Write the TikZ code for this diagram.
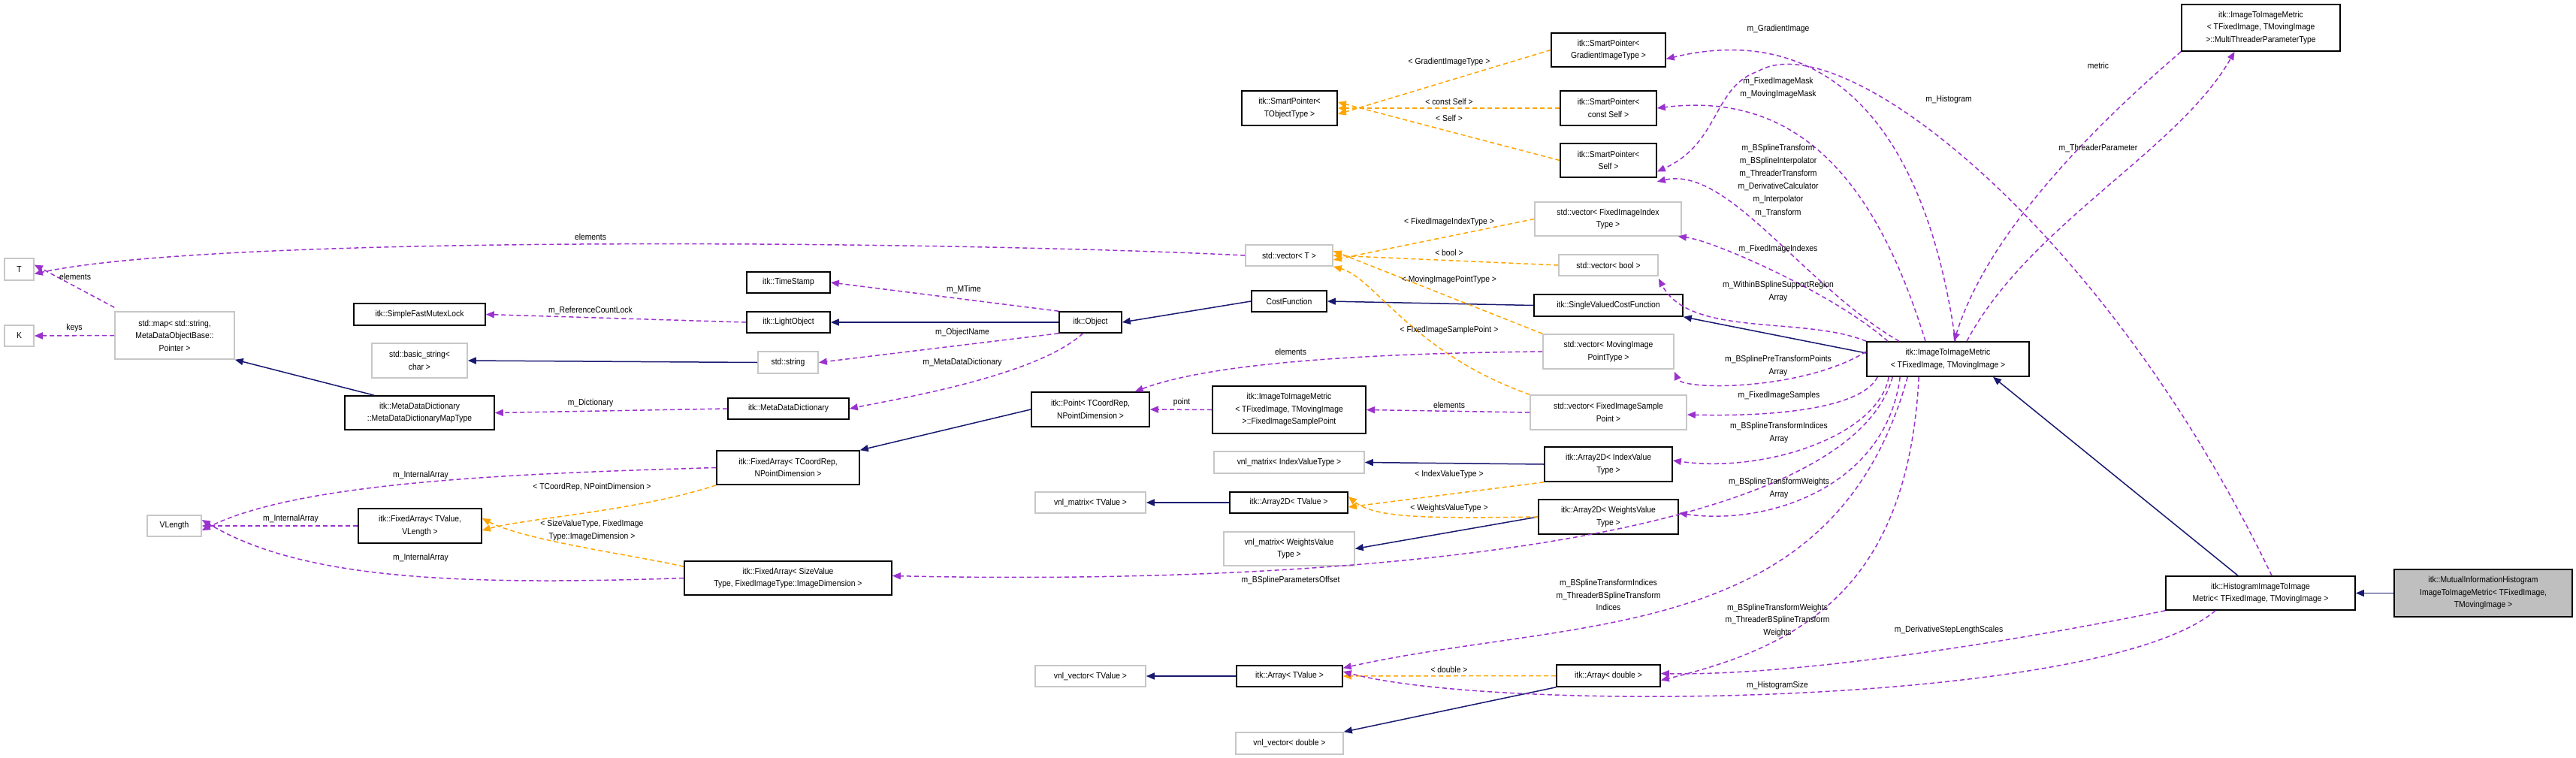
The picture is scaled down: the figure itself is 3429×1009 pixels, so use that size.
\documentclass[tikz,border=0pt]{standalone}
\usepackage{fontspec}
\setmainfont{Liberation Sans}[FakeStretch=0.9]
\usetikzlibrary{arrows.meta}
\definecolor{pur}{HTML}{9A32CD}
\definecolor{org}{HTML}{FFA500}
\definecolor{nav}{HTML}{191970}
\newcommand\bx[7]{\node[#7,minimum width={(#4-#2)*1pt},minimum height={(#5-#3)*1pt}] (#1) at ({(#2+#4)/2},{(#3+#5)/2}) {#6};}
\newcommand\lb[4]{\node[lbl] (#1) at (#2,#3) {#4};}
\begin{document}
\begin{tikzpicture}[x=1pt,y=-1pt,
  font=\fontsize{11.5}{16.5}\selectfont,
  bk/.style={draw=black,line width=1.6pt,inner sep=0pt,align=center,fill=white},
  gr/.style={draw=black!22,line width=1.6pt,inner sep=0pt,align=center,fill=white},
  me/.style={draw=black,line width=1.6pt,inner sep=0pt,align=center,fill=black!25},
  lbl/.style={inner sep=0pt,align=center},
  tip/.style={-{Triangle[length=11pt,width=9pt]}},
  use/.style={tip,draw=pur,line width=1.5pt,dash pattern=on 6pt off 4pt},
  tpl/.style={tip,draw=org,line width=1.5pt,dash pattern=on 6pt off 4pt},
  inh/.style={tip,draw=nav,line width=1.5pt}]
\useasboundingbox (0,0) rectangle (3429,1009);
% nodes
\bx{T}{6}{344}{45}{373}{T}{gr}
\bx{K}{6}{433}{45}{461}{K}{gr}
\bx{map}{153}{415}{312}{478}{std::map< std::string,\\MetaDataObjectBase::\\Pointer >}{gr}
\bx{sfml}{471}{404}{646}{433}{itk::SimpleFastMutexLock}{bk}
\bx{bstr}{495}{457}{622}{503}{std::basic\_string<\\char >}{gr}
\bx{mdmt}{459}{527}{658}{572}{itk::MetaDataDictionary\\::MetaDataDictionaryMapType}{bk}
\bx{sptot}{1653}{121}{1780}{167}{itk::SmartPointer<\\TObjectType >}{bk}
\bx{vecT}{1658}{326}{1774}{354}{std::vector< T >}{gr}
\bx{ts}{994}{362}{1105}{390}{itk::TimeStamp}{bk}
\bx{lo}{994}{415}{1105}{443}{itk::LightObject}{bk}
\bx{str}{1009}{468}{1089}{497}{std::string}{gr}
\bx{obj}{1410}{415}{1493}{443}{itk::Object}{bk}
\bx{cf}{1666}{387}{1766}{415}{CostFunction}{bk}
\bx{spg}{2065}{44}{2217}{89}{itk::SmartPointer<\\GradientImageType >}{bk}
\bx{spc}{2077}{121}{2205}{167}{itk::SmartPointer<\\const Self >}{bk}
\bx{sps}{2077}{191}{2205}{236}{itk::SmartPointer<\\Self >}{bk}
\bx{vfii}{2043}{269}{2238}{314}{std::vector< FixedImageIndex\\Type >}{gr}
\bx{vbool}{2075}{339}{2207}{367}{std::vector< bool >}{gr}
\bx{svcf}{2042}{392}{2240}{421}{itk::SingleValuedCostFunction}{bk}
\bx{vmov}{2054}{445}{2228}{491}{std::vector< MovingImage\\PointType >}{gr}
\bx{iim}{2485}{455}{2701}{501}{itk::ImageToImageMetric\\< TFixedImage, TMovingImage >}{bk}
\bx{mt}{2904}{6}{3115}{68}{itk::ImageToImageMetric\\< TFixedImage, TMovingImage\\>::MultiThreaderParameterType}{bk}
\bx{vfisp}{2037}{526}{2245}{572}{std::vector< FixedImageSample\\Point >}{gr}
\bx{a2i}{2056}{595}{2226}{641}{itk::Array2D< IndexValue\\Type >}{bk}
\bx{a2w}{2048}{665}{2234}{711}{itk::Array2D< WeightsValue\\Type >}{bk}
\bx{ad}{2072}{885}{2210}{914}{itk::Array< double >}{bk}
\bx{hist}{2883}{767}{3135}{812}{itk::HistogramImageToImage\\Metric< TFixedImage, TMovingImage >}{bk}
\bx{mi}{3187}{758}{3424}{821}{itk::MutualInformationHistogram\\ImageToImageMetric< TFixedImage,\\TMovingImage >}{me}
\bx{mdd}{969}{530}{1130}{558}{itk::MetaDataDictionary}{bk}
\bx{pt}{1373}{522}{1530}{568}{itk::Point< TCoordRep,\\NPointDimension >}{bk}
\bx{fisp}{1614}{514}{1818}{577}{itk::ImageToImageMetric\\< TFixedImage, TMovingImage\\>::FixedImageSamplePoint}{bk}
\bx{fac}{954}{600}{1144}{645}{itk::FixedArray< TCoordRep,\\NPointDimension >}{bk}
\bx{vmi}{1616}{601}{1816}{630}{vnl\_matrix< IndexValueType >}{gr}
\bx{vmt}{1378}{655}{1525}{683}{vnl\_matrix< TValue >}{gr}
\bx{a2t}{1637}{655}{1794}{683}{itk::Array2D< TValue >}{bk}
\bx{vmw}{1629}{708}{1803}{753}{vnl\_matrix< WeightsValue\\Type >}{gr}
\bx{fas}{911}{747}{1187}{792}{itk::FixedArray< SizeValue\\Type, FixedImageType::ImageDimension >}{bk}
\bx{vvt}{1378}{886}{1525}{914}{vnl\_vector< TValue >}{gr}
\bx{at}{1646}{886}{1787}{914}{itk::Array< TValue >}{bk}
\bx{vvd}{1645}{975}{1788}{1004}{vnl\_vector< double >}{gr}
\bx{vl}{196}{686}{268}{714}{VLength}{gr}
\bx{fat}{477}{677}{641}{723}{itk::FixedArray< TValue,\\VLength >}{bk}
% inheritance
\draw[inh] (mdmt.north west) ++(40,0) -- (map.south east);
\draw[inh] (str.west) -- (bstr.east);
\draw[inh] (obj.west) -- (lo.east);
\draw[inh] (cf.west) -- (obj.east);
\draw[inh] (svcf.west) -- (cf.east);
\draw[inh] (iim.west) ++(0,-8) -- (svcf.south east);
\draw[inh] (hist.north) ++(-30,0) -- ([xshift=60pt]iim.south);
\draw[inh] (mi.west) -- (hist.east);
\draw[inh] (pt.west) -- (fac.north east);
\draw[inh] (a2i.west) -- (vmi.east);
\draw[inh] (a2t.west) -- (vmt.east);
\draw[inh] (a2w.west) -- (vmw.east);
\draw[inh] (at.west) -- (vvt.east);
\draw[inh] (ad.south west) -- (vvd.north east);
% templates
\draw[tpl] (spg.west) -- ([yshift=-8pt]sptot.east);
\draw[tpl] (spc.west) -- (sptot.east);
\draw[tpl] (sps.west) -- ([yshift=8pt]sptot.east);
\draw[tpl] (vfii.west) -- ([yshift=-6pt]vecT.east);
\draw[tpl] (vbool.west) -- (vecT.east);
\draw[tpl] (vmov.north west) -- ([yshift=6pt]vecT.east);
\draw[tpl] (vfisp.north west) .. controls (1880,470) and (1830,370) .. (vecT.south east);
\draw[tpl] (fac.south west) .. controls (850,680) and (700,690) .. ([yshift=-6pt]fat.east);
\draw[tpl] ([yshift=-8pt]fas.north west) .. controls (850,740) and (700,720) .. ([yshift=10pt]fat.east);
\draw[tpl] (a2i.south west) -- ([yshift=-6pt]a2t.east);
\draw[tpl] (a2w.west) .. controls (1900,690) and (1830,690) .. ([yshift=8pt]a2t.east);
\draw[tpl] (ad.west) -- (at.east);
% usage
\draw[use] (vecT.west) .. controls (1300,322) and (300,310) .. ([yshift=-6pt]T.east);
\draw[use] (map.north west) ++(0,-5) -- ([yshift=6pt]T.east);
\draw[use] (map.west) -- (K.east);
\draw[use] (lo.west) -- (sfml.east);
\draw[use] (obj.north west) -- (ts.east);
\draw[use] (obj.south west) -- (str.east);
\draw[use] (obj.south) ++(-10,0) .. controls (1380,500) and (1200,530) .. (mdd.east);
\draw[use] (mdd.west) -- (mdmt.east);
\draw[use] (fac.west) .. controls (700,630) and (400,640) .. ([yshift=-6pt]vl.east);
\draw[use] (fat.west) -- (vl.east);
\draw[use] (fas.west) .. controls (600,780) and (400,770) .. ([yshift=8pt]vl.east);
\draw[use] (vmov.west) .. controls (1850,470) and (1620,480) .. ([xshift=-20pt]pt.north east);
\draw[use] (fisp.west) -- (pt.east);
\draw[use] (vfisp.west) -- (fisp.east);
\draw[use] ([xshift=10pt]iim.north) .. controls (2560,150) and (2420,30) .. ([yshift=-12pt]spg.east);
\draw[use] ([xshift=-30pt]iim.north) .. controls (2500,250) and (2400,120) .. (spc.east);
\draw[use] ([xshift=-65pt]iim.north) .. controls (2400,380) and (2300,220) .. ([yshift=-5pt]sps.south east);
\draw[use] ([xshift=-80pt]iim.north) .. controls (2440,390) and (2280,320) .. ([xshift=-5pt]vfii.south east);
\draw[use] (iim.north west) .. controls (2400,420) and (2250,450) .. ([yshift=-3pt]vbool.south east);
\draw[use] ([yshift=10pt]iim.west) .. controls (2400,520) and (2240,520) .. ([yshift=-3pt]vmov.south east);
\draw[use] ([xshift=15pt]iim.south west) .. controls (2480,540) and (2380,555) .. ([yshift=-3pt]vfisp.east);
\draw[use] ([xshift=30pt]iim.south west) .. controls (2500,580) and (2350,630) .. ([yshift=5pt]a2i.east);
\draw[use] ([xshift=45pt]iim.south west) .. controls (2510,650) and (2350,700) .. ([yshift=5pt]a2w.east);
\draw[use] ([xshift=35pt]iim.south west) .. controls (2460,720) and (1800,780) .. ([yshift=3pt]fas.east);
\draw[use] ([xshift=55pt]iim.south west) .. controls (2440,860) and (2100,820) .. ([yshift=-4pt]at.north east);
\draw[use] ([xshift=70pt]iim.south west) .. controls (2540,780) and (2400,860) .. ([yshift=-6pt]ad.east);
\draw[use] (mt.south west) .. controls (2750,200) and (2640,330) .. ([xshift=8pt]iim.north);
\draw[use] ([xshift=25pt]iim.north) .. controls (2700,300) and (2900,200) .. ([xshift=-35pt]mt.south);
\draw[use] ([xshift=15pt]hist.north) .. controls (2800,300) and (2450,30) .. (2340,95) .. controls (2280,115) and (2290,190) .. ([yshift=-15pt]sps.east);
\draw[use] (hist.south west) .. controls (2700,850) and (2400,900) .. ([yshift=3pt]ad.east);
\draw[use] ([xshift=-60pt]hist.south) .. controls (2800,940) and (2000,950) .. ([yshift=6pt]at.east);
% labels
\lb{l1}{786}{315}{elements}
\lb{l2}{100}{368}{elements}
\lb{l3}{99}{437}{keys}
\lb{l4}{786}{413}{m\_ReferenceCountLock}
\lb{l5}{786}{537}{m\_Dictionary}
\lb{l6}{1283}{385}{m\_MTime}
\lb{l7}{1281}{443}{m\_ObjectName}
\lb{l8}{1281}{483}{m\_MetaDataDictionary}
\lb{l9}{1718}{468}{elements}
\lb{l10}{1573}{536}{point}
\lb{l11}{1929}{539}{elements}
\lb{l12}{1718}{773}{m\_BSplineParametersOffset}
\lb{l13}{560}{633}{m\_InternalArray}
\lb{l14}{387}{691}{m\_InternalArray}
\lb{l15}{560}{743}{m\_InternalArray}
\lb{l16}{788}{649}{< TCoordRep, NPointDimension >}
\lb{l17}{788}{706}{< SizeValueType, FixedImage\\Type::ImageDimension >}
\lb{l18}{1929}{83}{< GradientImageType >}
\lb{l19}{1929}{135}{< const Self >}
\lb{l20}{1929}{157}{< Self >}
\lb{l21}{1929}{296}{< FixedImageIndexType >}
\lb{l22}{1929}{336}{< bool >}
\lb{l23}{1929}{373}{< MovingImagePointType >}
\lb{l24}{1929}{440}{< FixedImageSamplePoint >}
\lb{l25}{1929}{632}{< IndexValueType >}
\lb{l26}{1929}{677}{< WeightsValueType >}
\lb{l27}{1929}{891}{< double >}
\lb{l28}{2367}{39}{m\_GradientImage}
\lb{l29}{2367}{117}{m\_FixedImageMask\\m\_MovingImageMask}
\lb{l30}{2594}{133}{m\_Histogram}
\lb{l31}{2793}{87}{metric}
\lb{l32}{2793}{197}{m\_ThreaderParameter}
\node[lbl,font=\fontsize{11.5}{17.2}\selectfont] (l33) at (2367,240) {m\_BSplineTransform\\m\_BSplineInterpolator\\m\_ThreaderTransform\\m\_DerivativeCalculator\\m\_Interpolator\\m\_Transform};
\lb{l34}{2367}{332}{m\_FixedImageIndexes}
\lb{l35}{2367}{388}{m\_WithinBSplineSupportRegion\\Array}
\lb{l36}{2367}{487}{m\_BSplinePreTransformPoints\\Array}
\lb{l37}{2368}{527}{m\_FixedImageSamples}
\lb{l38}{2368}{576}{m\_BSplineTransformIndices\\Array}
\lb{l39}{2368}{650}{m\_BSplineTransformWeights\\Array}
\lb{l40}{2141}{792}{m\_BSplineTransformIndices\\m\_ThreaderBSplineTransform\\Indices}
\lb{l41}{2366}{826}{m\_BSplineTransformWeights\\m\_ThreaderBSplineTransform\\Weights}
\lb{l42}{2594}{839}{m\_DerivativeStepLengthScales}
\lb{l43}{2366}{913}{m\_HistogramSize}
\end{tikzpicture}
\end{document}
